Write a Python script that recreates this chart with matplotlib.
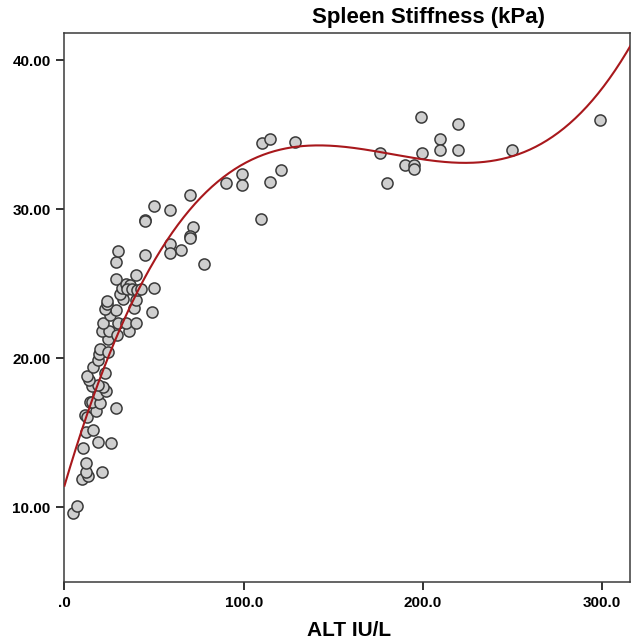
import numpy as np
import matplotlib
matplotlib.use("Agg")
import matplotlib.pyplot as plt  # noqa: E402

# ALT (IU/L) vs spleen stiffness (kPa)
alt = [
    4.9, 7.0, 9.9, 13.3, 11.8, 20.9, 11.8, 10.2, 18.9, 26.0,
    11.8, 16.1, 11.4, 12.8, 17.7, 28.7, 14.2, 15.5, 20.0, 18.5,
    23.0, 15.6, 21.7, 18.5, 13.7, 12.6, 22.6, 16.1, 18.6, 19.0,
    19.8, 24.5, 24.4, 20.7, 24.8, 29.1, 36.0, 21.7, 29.8, 34.5,
    39.9, 25.4, 28.7, 22.6, 48.7, 23.7, 23.9, 38.8, 32.8, 39.9,
    31.0, 31.9, 34.1, 36.6, 34.7, 37.5, 40.3, 42.7, 49.9, 28.7,
    39.9, 44.8, 28.9, 29.9, 44.7, 44.7, 49.9, 58.9, 58.9, 58.9,
    64.8, 69.9, 71.5, 69.9, 69.9, 77.7, 90.0, 98.9, 98.9, 109.8,
    110.0, 114.8, 114.8, 120.8, 128.8, 176.0, 179.8, 189.8, 194.9, 194.9,
    198.8, 199.7, 209.7, 209.7, 219.8, 219.8, 249.9, 298.7,
]
stiffness = [
    9.65, 10.1, 11.9, 12.1, 12.4, 12.35, 13.0, 14.0, 14.4, 14.35,
    15.05, 15.2, 16.2, 16.05, 16.5, 16.7, 17.1, 17.1, 17.0, 17.6,
    17.8, 18.15, 18.1, 18.2, 18.55, 18.85, 19.0, 19.4, 19.9, 20.3,
    20.6, 20.4, 21.3, 21.85, 21.85, 21.55, 21.85, 22.4, 22.4, 22.4,
    22.4, 22.9, 23.25, 23.3, 23.1, 23.65, 23.85, 23.4, 24.0, 23.9,
    24.3, 24.75, 25.0, 24.9, 24.65, 24.65, 24.6, 24.65, 24.7, 25.3,
    25.6, 26.95, 26.5, 27.2, 29.3, 29.2, 30.2, 29.95, 27.65, 27.05,
    27.25, 30.95, 28.8, 28.2, 28.05, 26.3, 31.75, 32.4, 31.65, 29.35,
    34.45, 34.75, 31.85, 32.65, 34.5, 33.75, 31.75, 32.95, 33.0, 32.7,
    36.2, 33.75, 34.7, 34.0, 35.7, 34.0, 33.95, 36.0,
]

x_ticks = [0, 100, 200, 300]
x_labels = [".0", "100.0", "200.0", "300.0"]
y_ticks = [10, 20, 30, 40]
y_labels = ["10.00", "20.00", "30.00", "40.00"]

plt.rcParams["font.family"] = ["Liberation Sans", "DejaVu Sans"]

fig = plt.figure(figsize=(6.34, 6.44), dpi=100)
ax = fig.add_axes([0.1017, 0.0963, 0.892, 0.8529])

# cubic fit line (SPSS style)
coef = np.polyfit(alt, stiffness, 3)
xs = np.linspace(0, 316, 400)
ax.plot(xs, np.polyval(coef, xs), color="#a8181c", lw=1.5, zorder=3)

ax.scatter(alt, stiffness, s=64, facecolor="#cfcfcf", edgecolor="#3a3a3a",
           linewidth=1.1, zorder=2)

ax.set_xlim(0, 315.6)
ax.set_ylim(5, 41.85)
ax.set_xticks(x_ticks)
ax.set_xticklabels(x_labels)
ax.set_yticks(y_ticks)
ax.set_yticklabels(y_labels)
ax.tick_params(direction="out", length=6, width=1.3, color="#222222",
               labelsize=11, pad=4)
for lab in ax.get_xticklabels() + ax.get_yticklabels():
    lab.set_fontweight("bold")
for sp in ax.spines.values():
    sp.set_color("#3a3a3a")
    sp.set_linewidth(1.1)

fig.text(429 / 634, 1 - 18 / 644, "Spleen Stiffness (kPa)", ha="center",
         va="center", fontsize=16, fontweight="bold")
fig.text(349 / 634, 1 - 630 / 644, "ALT IU/L", ha="center", va="center",
         fontsize=15, fontweight="bold")

fig.savefig("out.png", dpi=100)
